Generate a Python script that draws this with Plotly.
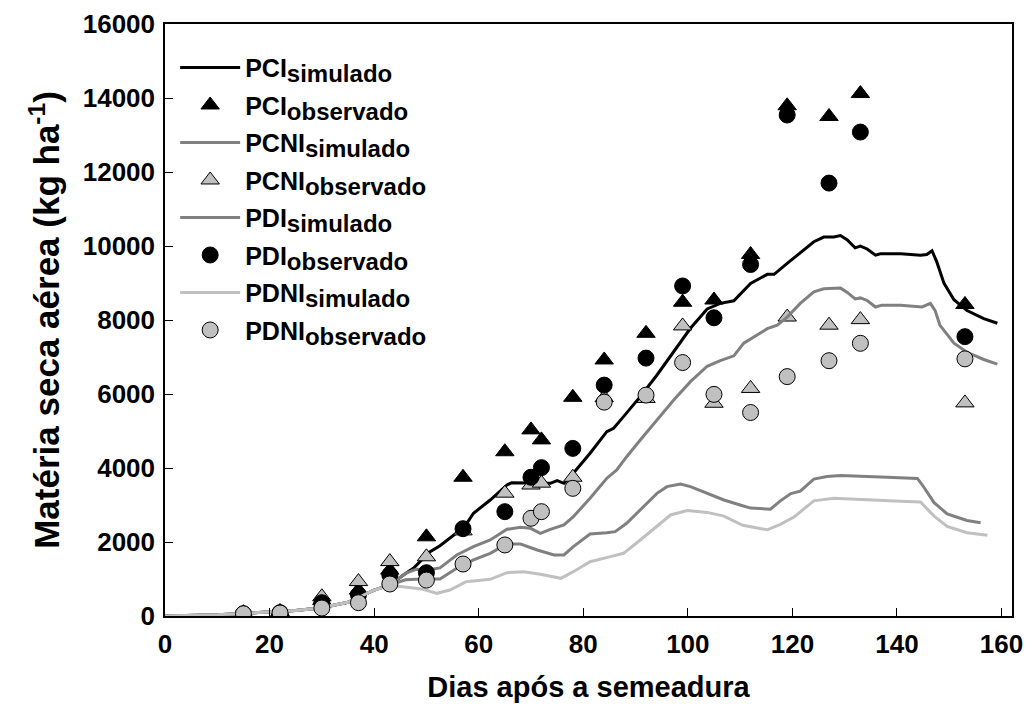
import plotly.graph_objects as go

# ---------------- data ----------------
obs_days = [15, 22, 30, 37, 43, 50, 57, 65, 70, 72, 78, 84, 92, 99, 105, 112, 119, 127, 133, 153]

pci_obs = [90, 120, 420, 700, 1240, 2140, 3750, 4440, 5030, 4760, 5910, 6920, 7640, 8480, 8540, 9770, 13790, 13500, 14120, 8420]
pcni_obs = [70, 100, 520, 930, 1470, 1600, 2300, 3320, 3540, 3590, 3750, 5900, 5880, 7840, 5750, 6150, 8080, 7860, 8010, 5760]
pdi_obs = [60, 90, 360, 570, 1110, 1170, 2360, 2820, 3750, 4010, 4530, 6240, 6970, 8920, 8060, 9500, 13540, 11700, 13080, 7550]
pdni_obs = [60, 80, 215, 360, 865, 970, 1405, 1920, 2640, 2820, 3450, 5780, 5970, 6850, 5990, 5500, 6470, 6900, 7370, 6950]

pci_sim_days = [0, 5, 10, 15, 20, 25, 30, 35, 40, 43, 46, 47.5, 50.7, 52.6, 57.3, 59, 62.2, 65.4, 66.3,
                69.9, 73.7, 75, 76.3, 78.1, 81.3, 84.5, 85.8, 87.7, 90.9, 94.1, 97.3, 100.5, 103.7,
                106.2, 108.8, 110, 112, 115.2, 116.5, 119, 121.5, 124.1, 126, 127.9, 129.2, 130.5,
                132, 133, 134.3, 135.9, 136.8, 140.7, 144.5, 145.7, 146.7, 147.6, 149, 150.9, 153.4,
                156.6, 159.2]
pci_sim = [0, 15, 35, 70, 100, 150, 225, 370, 700, 840, 1150, 1290, 1740, 1900, 2414, 2776, 3135, 3541, 3604,
           3604, 3586, 3659, 3586, 3857, 4398, 4982, 5073, 5388, 5929, 6514, 7145, 7776, 8300,
           8450, 8520, 8700, 8990, 9234, 9234, 9528, 9821, 10115, 10242, 10242, 10282, 10163,
           9950, 9998, 9920, 9752, 9790, 9790, 9752, 9771, 9871, 9577, 8990, 8547, 8255,
           8039, 7912]

pdi_sim_days = [0, 5, 10, 15, 20, 25, 30, 35, 40, 43, 46, 48, 50.5, 52.6, 55.8, 59, 62.2, 65.4, 68,
                69.9, 71.8, 73.7, 76.3, 78.1, 81.3, 84.5, 86.4, 88.3, 90.9, 94.1, 97.3, 100.5, 102.4,
                103.7, 106.2, 108.8, 110.7, 115.2, 117.1, 119, 121.5, 124.1, 126, 128.5, 129.2, 130.5,
                132, 133, 134.3, 135.9, 137.1, 140.7, 144.8, 146.4, 147.3, 148.2, 150.9, 153.4, 156.6,
                159.2]
pdi_sim = [0, 15, 35, 70, 100, 150, 225, 370, 700, 840, 1150, 1260, 1250, 1300, 1649, 1874, 2054, 2343, 2397,
           2370, 2235, 2343, 2460, 2684, 3181, 3722, 3946, 4306, 4757, 5298, 5838, 6333, 6570,
           6750, 6900, 7031, 7374, 7766, 7863, 8079, 8450, 8763, 8842, 8842, 8862, 8746,
           8568, 8597, 8528, 8352, 8401, 8401, 8352, 8450, 8255, 7863, 7373, 7128, 6933,
           6806]

pcni_sim_days = [0, 5, 10, 15, 20, 25, 30, 35, 40, 43, 46, 49, 52.6, 55.8, 59, 62.2, 65.4, 68, 71.2,
                 74.4, 76.3, 78.1, 81.3, 84.5, 86.1, 88.3, 90.9, 94.1, 96, 98.6, 100.5, 103.7, 106.9,
                 110, 112, 115.8, 117.7, 119.7, 121.5, 124.1, 126.6, 129.2, 134.3, 138.1, 143.9,
                 144.8, 147.1, 149.6, 153.4, 156]
pcni_sim = [0, 15, 35, 70, 100, 150, 225, 370, 700, 840, 980, 1000, 1000, 1289, 1514, 1694, 1946, 1946, 1784,
            1649, 1649, 1874, 2216, 2253, 2280, 2505, 2865, 3316, 3496, 3568, 3496, 3316, 3135,
            3000, 2917, 2887, 3113, 3308, 3376, 3700, 3768, 3798, 3760, 3749, 3719,
            3554, 3063, 2760, 2580, 2520]

pdni_sim_days = [0, 5, 10, 15, 20, 25, 30, 35, 40, 43, 46.3, 49.4, 52, 54.5, 57.6, 62.2, 65.4, 68.6,
                 71.8, 75.7, 78.1, 81.3, 85.2, 87.7, 90.9, 94.1, 96.7, 99.9, 103.7, 106.9, 110.5,
                 115.2, 117.7, 120.3, 124.1, 127.9, 134.3, 140.7, 144.5, 147.1, 149.6, 153.4, 157.3]
pdni_sim = [0, 15, 35, 70, 100, 150, 225, 370, 700, 830, 775, 721, 613, 703, 928, 991, 1171, 1198,
            1126, 1018, 1198, 1468, 1604, 1694, 2054, 2414, 2730, 2850, 2800, 2700, 2450,
            2330, 2476, 2673, 3113, 3180, 3130, 3100, 3080, 2700, 2420, 2250, 2180]

x_ticks = [0, 20, 40, 60, 80, 100, 120, 140, 160]
y_ticks = [0, 2000, 4000, 6000, 8000, 10000, 12000, 14000, 16000]

# ---------------- styles ----------------
FONT = "Liberation Sans, Arial, sans-serif"
BLACK = "#000000"
GRAY = "#808080"
LIGHT = "#c0c0c0"


def lab(main, sub):
    return f"{main}<sub><span style='font-size:24px'>{sub}</span></sub>"


fig = go.Figure()

fig.add_trace(go.Scatter(x=pci_sim_days, y=pci_sim, mode="lines", name=lab("PCI", "simulado"),
                         line=dict(color=BLACK, width=3), legendgroup="a"))
fig.add_trace(go.Scatter(x=obs_days, y=pci_obs, mode="markers", name=lab("PCI", "observado"),
                         marker=dict(symbol="triangle-up", size=16, color=BLACK,
                                     line=dict(color=BLACK, width=1)), legendgroup="b"))
fig.add_trace(go.Scatter(x=pcni_sim_days, y=pcni_sim, mode="lines", name=lab("PCNI", "simulado"),
                         line=dict(color=GRAY, width=3), legendgroup="c"))
fig.add_trace(go.Scatter(x=obs_days, y=pcni_obs, mode="markers", name=lab("PCNI", "observado"),
                         marker=dict(symbol="triangle-up", size=16, color=LIGHT,
                                     line=dict(color=BLACK, width=1)), legendgroup="d"))
fig.add_trace(go.Scatter(x=pdi_sim_days, y=pdi_sim, mode="lines", name=lab("PDI", "simulado"),
                         line=dict(color=GRAY, width=3), legendgroup="e"))
fig.add_trace(go.Scatter(x=obs_days, y=pdi_obs, mode="markers", name=lab("PDI", "observado"),
                         marker=dict(symbol="circle", size=16, color=BLACK,
                                     line=dict(color=BLACK, width=1)), legendgroup="f"))
fig.add_trace(go.Scatter(x=pdni_sim_days, y=pdni_sim, mode="lines", name=lab("PDNI", "simulado"),
                         line=dict(color=LIGHT, width=3), legendgroup="g"))
fig.add_trace(go.Scatter(x=obs_days, y=pdni_obs, mode="markers", name=lab("PDNI", "observado"),
                         marker=dict(symbol="circle", size=16, color=LIGHT,
                                     line=dict(color=BLACK, width=1)), legendgroup="h"))

axis_common = dict(
    showgrid=False, zeroline=False, showline=True, linecolor="#000000", linewidth=1.5,
    mirror=True, ticks="inside", ticklen=8, tickwidth=1, tickcolor="#000000",
    tickfont=dict(family=FONT, size=26, color="#000000", weight="bold"),
    automargin=False,
)

fig.update_layout(
    width=1026, height=713,
    margin=dict(l=165, r=14, t=24, b=97),
    paper_bgcolor="white", plot_bgcolor="white",
    font=dict(family=FONT, color="#000000"),
    showlegend=True,
    legend=dict(
        x=0.012, y=0.965, xanchor="left", yanchor="top",
        font=dict(family=FONT, size=25, color="#000000", weight="bold"),
        bgcolor="rgba(0,0,0,0)", itemwidth=60, traceorder="grouped", tracegroupgap=2,
    ),
    xaxis=dict(axis_common, range=[0, 162], tickvals=x_ticks, ticklabelstandoff=4,
               tickformat="d",
               title=dict(text="Dias após a semeadura", standoff=19,
                          font=dict(family=FONT, size=29, color="#000000", weight="bold"))),
    yaxis=dict(axis_common, range=[0, 16000], tickvals=y_ticks, ticklabelstandoff=3,
               tickformat="d",
               title=dict(text="Matéria seca aérea (kg ha<sup>-1</sup>)", standoff=12,
                          font=dict(family=FONT, size=35, color="#000000", weight="bold"))),
)

fig.write_html("out.html", config={"displayModeBar": False},
               post_script="document.body.style.margin='0';")
